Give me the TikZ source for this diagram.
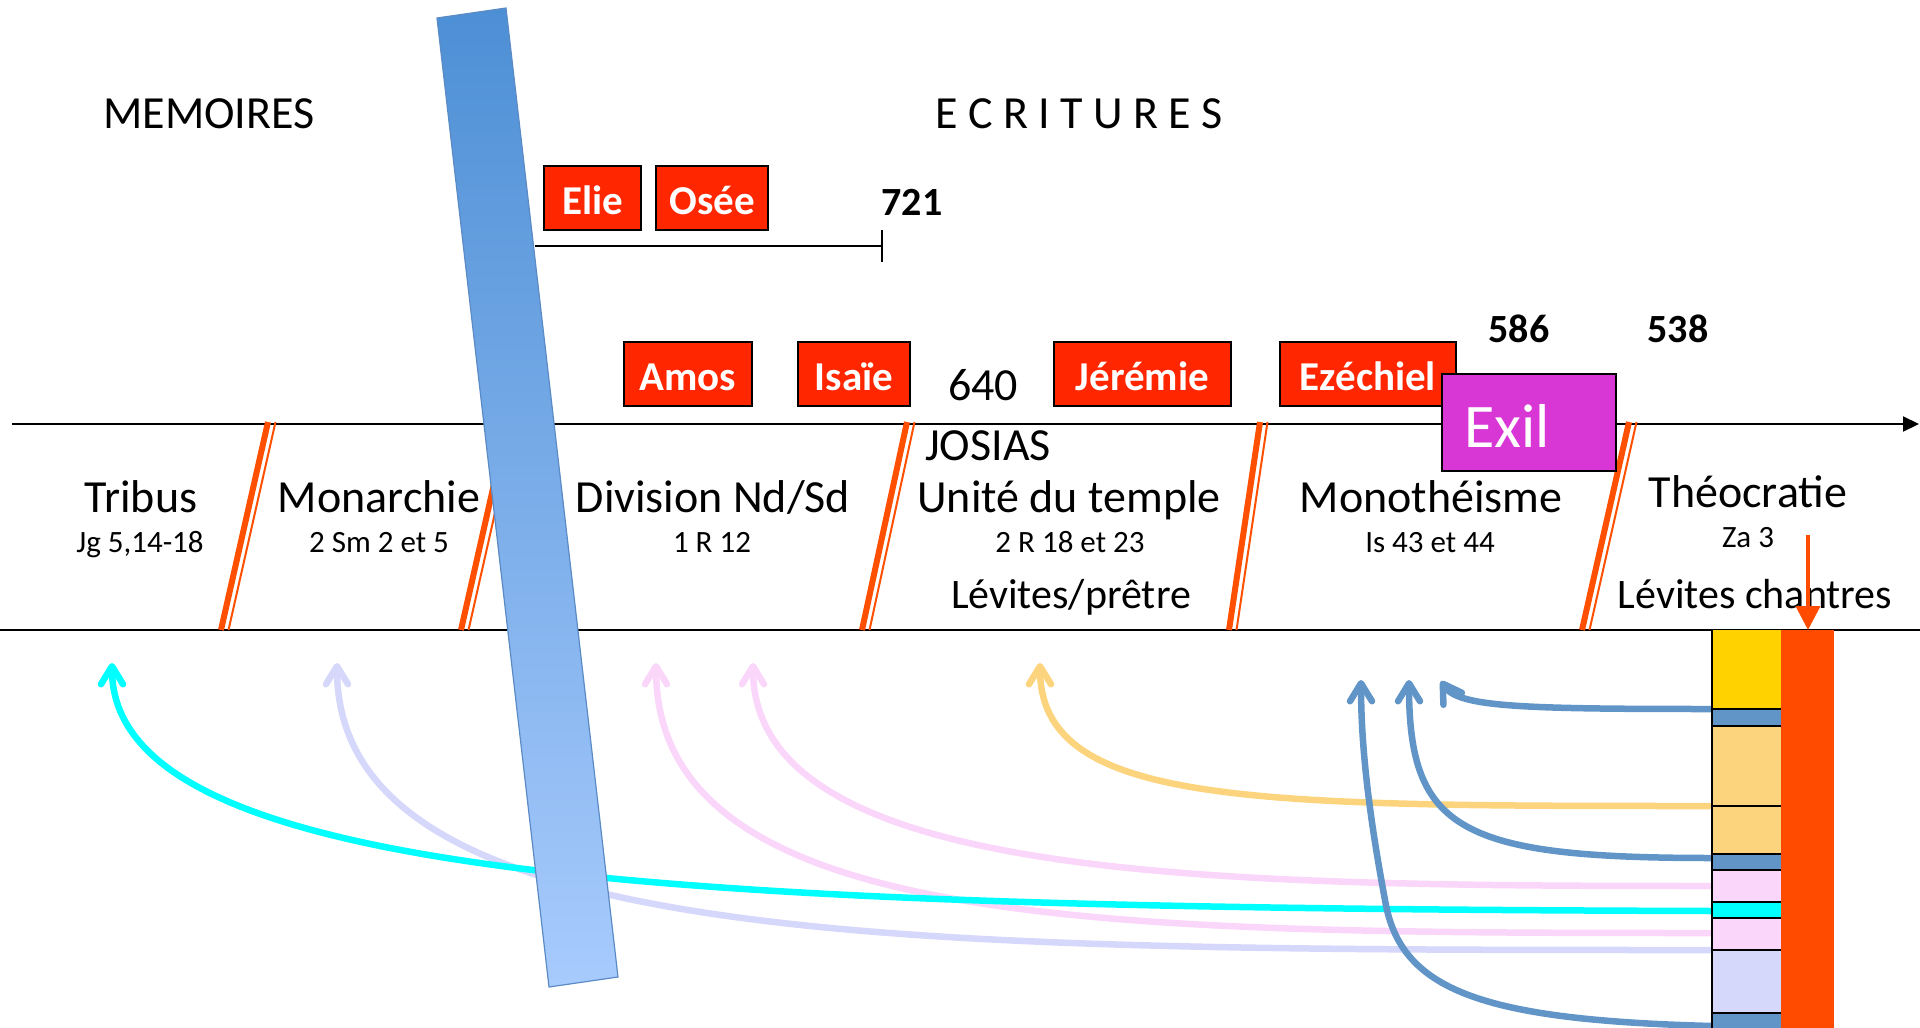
\documentclass[tikz,border=0pt]{standalone}
\usepackage{fontspec}
\setmainfont{Carlito}
\usetikzlibrary{arrows.meta}
\definecolor{boxred}{HTML}{FF2600}
\definecolor{exilmag}{HTML}{D936D6}
\definecolor{sepc}{HTML}{FF4F00}
\definecolor{rred}{HTML}{FF4B00}
\definecolor{cyel}{HTML}{FFD200}
\definecolor{corg}{HTML}{FDD47E}
\definecolor{cblu}{HTML}{6195C8}
\definecolor{cpnk}{HTML}{FAD7FA}
\definecolor{ccya}{HTML}{00FFFF}
\definecolor{clav}{HTML}{D5D7FB}
\definecolor{bartop}{HTML}{4D8FD5}
\definecolor{barbot}{HTML}{A8CBFD}
\definecolor{baredge}{HTML}{5B8BC5}
\newcommand\fsBig{\fontsize{46}{52}\selectfont}
\newcommand\fsLev{\fontsize{42}{48}\selectfont}
\newcommand\fsSmall{\fontsize{31}{36}\selectfont}
\newcommand\fsBox{\fontsize{41}{46}\selectfont\bfseries}
\newcommand\fsExil{\fontsize{62}{70}\selectfont}
\newcommand\sepmark[2]{%
  \draw[sepc, line width=6pt] (#1-3,422) -- (#2-3,630);
  \draw[sepc, line width=2pt] (#1+4.5,422) -- (#2+4.5,630);}
\begin{document}
\begin{tikzpicture}[x=1pt,y=-1pt,
  txt/.style={inner sep=0pt, anchor=base},
  redbox/.style={draw=black, line width=2.5pt, fill=boxred, text=white, font=\fsBox,
     inner sep=0pt, text height=32pt, text depth=0pt, minimum height=64pt},
  curve/.style={line width=6.5pt, -{Straight Barb[length=18pt,width=22pt,round]}}]
\useasboundingbox (0,0) rectangle (1920,1028);

% headings
\node[txt, font=\fsBig] (mem) at (209,128) {MEMOIRES};
\node[txt, font=\fsBig] (ecr) at (1079,128) {E C R I T U R E S};

% 721 scale
\node[redbox, minimum width=97pt] (elie) at (592.5,198) {Elie};
\node[redbox, minimum width=112pt] (osee) at (712,198) {Osée};
\node[txt, font=\bfseries\fontsize{40}{46}\selectfont] (n721) at (912,215) {721};
\coordinate (la) at (535,246); \coordinate (lb) at (882,246);
\coordinate (ta) at (882,230); \coordinate (tb) at (882,262);
\draw[line width=2pt] (la) -- (lb);
\draw[line width=2pt] (ta) -- (tb);

% timelines
\coordinate (tl0) at (12,424); \coordinate (tl1) at (1919,424);
\draw[line width=2pt, -{Triangle[length=16pt,width=15pt]}] (tl0) -- (tl1);
\coordinate (bl0) at (0,630); \coordinate (bl1) at (1920,630);
\draw[line width=2.5pt] (bl0) -- (bl1);

% separators
\sepmark{271}{224}
\sepmark{511}{464}
\sepmark{910}{865}
\sepmark{1263}{1232}
\sepmark{1632}{1585}

% period labels
\node[txt, font=\fsBig] (tribus) at (141,512) {Tribus};
\node[txt, font=\fsSmall] (jg) at (140,552) {Jg 5,14-18};
\node[txt, font=\fsBig] (monar) at (379,512) {Monarchie};
\node[txt, font=\fsSmall] (sm) at (379,552) {2 Sm 2 et 5};
\node[txt, font=\fsBig] (divis) at (713,512) {Division Nd/Sd};
\node[txt, font=\fsSmall] (r12) at (712,552) {1 R 12};
\node[txt, font=\fsBig] (n640) at (983,400) {640};
\node[txt, font=\fsBig] (josias) at (988,460) {JOSIAS};
\node[txt, font=\fsBig] (unite) at (1069,512) {Unité du temple};
\node[txt, font=\fsSmall] (r18) at (1070,552) {2 R 18 et 23};
\node[txt, font=\fsLev] (levp) at (1071,608) {Lévites/prêtre};
\node[txt, font=\fsBig] (mono) at (1431,512) {Monothéisme};
\node[txt, font=\fsSmall] (is43) at (1430,552) {Is 43 et 44};
\node[txt, font=\fsBig] (theo) at (1748,507) {Théocratie};
\node[txt, font=\fsSmall] (za) at (1748,547) {Za 3};
\node[txt, font=\fsLev] (levc) at (1755,608) {Lévites chantres};

% prophets
\node[redbox, minimum width=128pt] (amos) at (688,374) {Amos};
\node[redbox, minimum width=112pt] (isaie) at (854,374) {Isaïe};
\node[redbox, minimum width=177pt] (jere) at (1142.5,374) {Jérémie};
\node[redbox, minimum width=176pt] (ezec) at (1368,374) {Ezéchiel};
\node[draw=black, line width=2.5pt, fill=exilmag, minimum width=174pt, minimum height=97pt, inner sep=0pt] (exil) at (1529,422.5) {};
\node[txt, anchor=base west, font=\fsExil, text=white] (exilt) at (1464,447) {Exil};
\node[txt, font=\bfseries\fontsize{40}{46}\selectfont] (n586) at (1519,342) {586};
\node[txt, font=\bfseries\fontsize{40}{46}\selectfont] (n538) at (1678,342) {538};

% small red arrow
\coordinate (ra0) at (1808,535); \coordinate (ra1) at (1808,630);
\draw[rred, line width=4pt, -{Triangle[length=24pt,width=24pt]}] (ra0) -- (ra1);

% curved arrows
\coordinate (scya) at (1712,911); \coordinate (ecya) at (112,663);
\coordinate (slav) at (1712,950); \coordinate (elav) at (337,663);
\coordinate (spk1) at (1712,933); \coordinate (epk1) at (656,663);
\coordinate (spk2) at (1712,886); \coordinate (epk2) at (753,663);
\coordinate (sorg) at (1712,806); \coordinate (eorg) at (1040,663);
\coordinate (sbl1) at (1712,1026); \coordinate (ebl1) at (1361,680);
\coordinate (sbl2) at (1712,858); \coordinate (ebl2) at (1409,680);
\coordinate (sbl3) at (1712,709); \coordinate (ebl3) at (1441,681);

\draw[curve, clav] (slav) .. controls (900,950) and (337,950) .. (elav);
\draw[curve, cpnk] (spk1) .. controls (1100,933) and (656,930) .. (epk1);
\draw[curve, cpnk] (spk2) .. controls (1200,886) and (753,880) .. (epk2);
\draw[curve, ccya] (scya) .. controls (700,908) and (112,885) .. (ecya);
\draw[curve, corg] (sorg) .. controls (1250,806) and (1040,806) .. (eorg);
\draw[curve, cblu] (sbl1) .. controls (1480,1020) and (1400,990) .. (1385,900)
   .. controls (1370,820) and (1361,750) .. (ebl1);
\draw[curve, cblu] (sbl2) .. controls (1460,858) and (1409,830) .. (ebl2);
\draw[curve, cblu] (sbl3) .. controls (1520,709) and (1458,707) .. (ebl3);

% right stacked column
\fill[cyel] (1712,630) rectangle (1781,709);
\fill[cblu] (1712,709) rectangle (1781,726);
\fill[corg] (1712,726) rectangle (1781,854);
\fill[cblu] (1712,854) rectangle (1781,870);
\fill[cpnk] (1712,870) rectangle (1781,902);
\fill[ccya] (1712,902) rectangle (1781,918);
\fill[cpnk] (1712,918) rectangle (1781,950);
\fill[clav] (1712,950) rectangle (1781,1013);
\fill[cblu] (1712,1013) rectangle (1781,1028);
\foreach \yy in {709,726,806,854,870,902,918,950,1013}
  \draw[line width=2pt] (1712,\yy) -- (1781,\yy);
\draw[line width=2.5pt] (1712,630) -- (1712,1028);
\fill[rred] (1781,630) rectangle (1834,1028);

% blue slanted bar
\shadedraw[top color=bartop, bottom color=barbot, draw=baredge, line width=1.2pt]
  (437,18) -- (506,8) -- (618,977) -- (549,987) -- cycle;
\end{tikzpicture}
\end{document}
